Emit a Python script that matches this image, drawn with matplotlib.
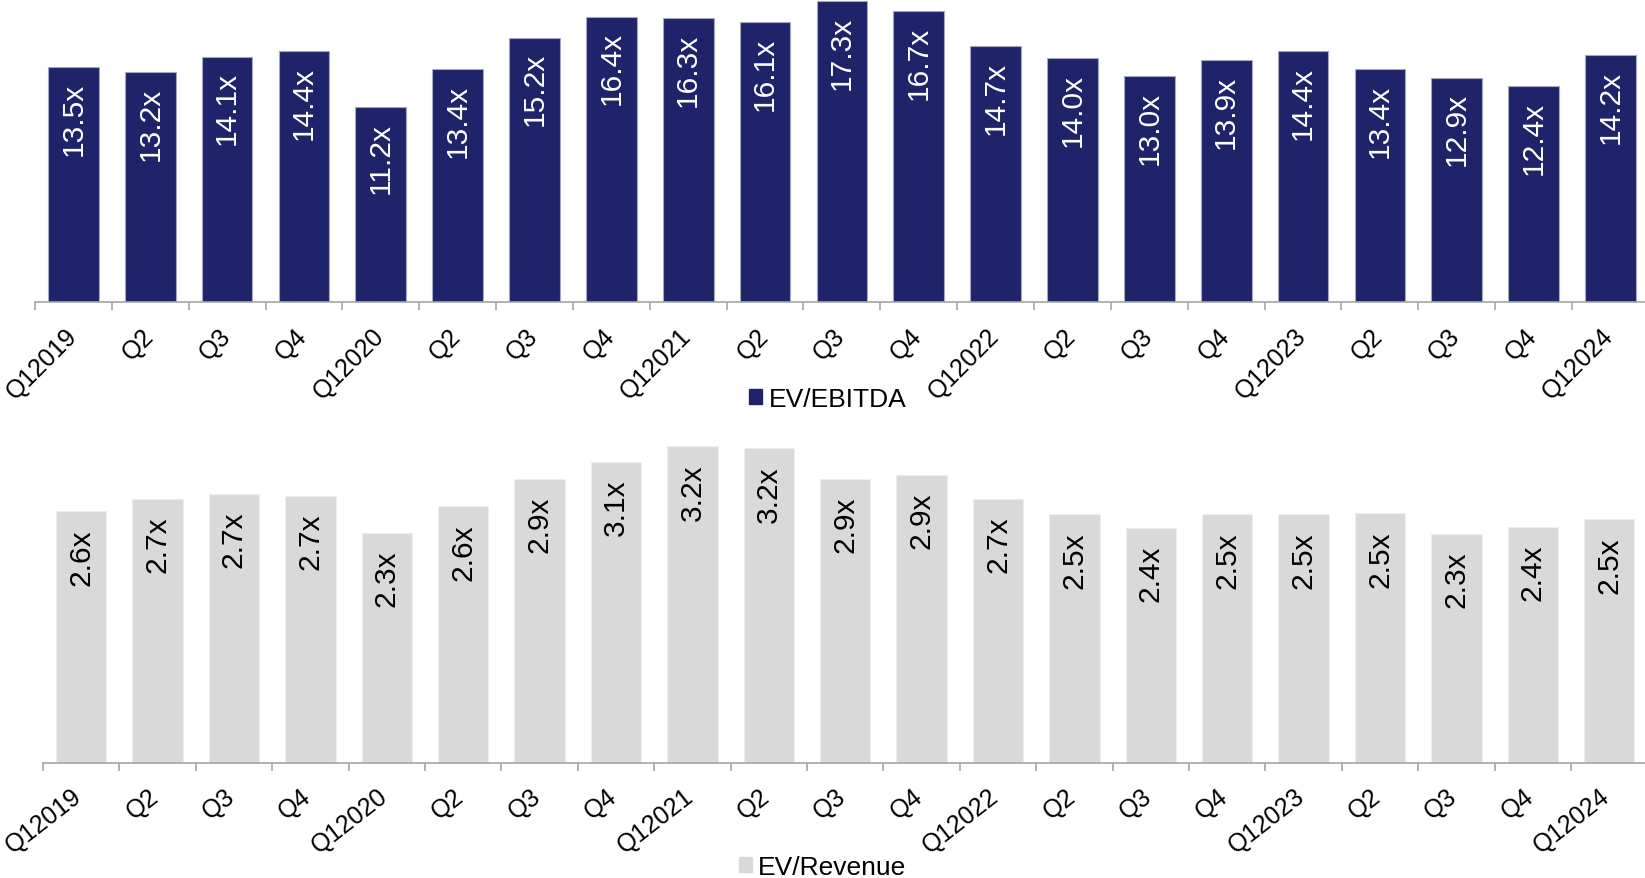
import matplotlib
matplotlib.use("Agg")
import matplotlib.pyplot as plt
import matplotlib.transforms as mtrans
from matplotlib.patches import Patch
import numpy as np

plt.rcParams['font.family'] = ['Liberation Sans', 'DejaVu Sans']

quarters = ["Q12019", "Q2", "Q3", "Q4", "Q12020", "Q2", "Q3", "Q4",
            "Q12021", "Q2", "Q3", "Q4", "Q12022", "Q2", "Q3", "Q4",
            "Q12023", "Q2", "Q3", "Q4", "Q12024"]
ev_ebitda = [13.5, 13.2, 14.1, 14.4, 11.2, 13.4, 15.2, 16.4, 16.3, 16.1, 17.3,
             16.7, 14.7, 14.0, 13.0, 13.9, 14.4, 13.4, 12.9, 12.4, 14.2]
ev_revenue = [2.56, 2.69, 2.74, 2.72, 2.34, 2.61, 2.89, 3.06, 3.22, 3.20, 2.89,
              2.93, 2.69, 2.53, 2.39, 2.53, 2.53, 2.54, 2.33, 2.40, 2.48]

NAVY = "#1F246A"
GREY = "#D9D9D9"
AXIS = "#A6A6A6"

W, H = 1645, 879
fig = plt.figure(figsize=(W / 100, H / 100), dpi=100)


def px_axes(left, bottom_y, width, height):
    # box given in image pixels (y measured from the top)
    return fig.add_axes([left / W, 1 - bottom_y / H, width / W, height / H])


def draw_panel(ax, values, color, edge, txtcolor, ymax, offset, rot, dx, dy):
    x = np.arange(len(values))
    ax.bar(x, values, width=0.66, color=color, edgecolor=edge, linewidth=0.8, zorder=2)
    for xi, v in zip(x, values):
        ax.annotate("%.1fx" % v, (xi, v), xytext=(0, -offset), textcoords="offset points",
                    rotation=90, ha="center", va="top", fontsize=21.5, color=txtcolor)
    ax.set_xlim(-0.5, len(values) - 0.5)
    ax.set_ylim(0, ymax)
    for s in ["top", "right", "left"]:
        ax.spines[s].set_visible(False)
    ax.spines["bottom"].set_color(AXIS)
    ax.spines["bottom"].set_linewidth(1.2)
    ax.set_yticks([])
    ax.set_xticks(x)
    ax.set_xticklabels(quarters, rotation=rot, ha="right", rotation_mode="anchor", fontsize=18)
    ax.tick_params(axis="x", which="major", length=0, pad=14)
    shift = mtrans.ScaledTranslation(dx / 100, dy / 100, fig.dpi_scale_trans)
    for lab in ax.get_xticklabels():
        lab.set_transform(lab.get_transform() + shift)
    # tick marks sit between the categories
    ax.set_xticks(np.arange(len(values) + 1) - 0.5, minor=True)
    ax.tick_params(axis="x", which="minor", length=5.5, width=1.2, color=AXIS)


ax1 = px_axes(35, 303, 21 * 76.85, 303)
draw_panel(ax1, ev_ebitda, NAVY, "#A4A8C4", "white", 303 / 17.4, 10.5, 45, -9, -2)

ax2 = px_axes(43, 764, 21 * 76.4, 98.3 * 3.6)
draw_panel(ax2, ev_revenue, GREY, "#EEEEEE", "black", 3.6, 12, 38, -9.5, -1)

legend_kw = dict(loc="center", frameon=False, fontsize=19, handlelength=0.51,
                 handleheight=0.51, handletextpad=0.23, borderpad=0, borderaxespad=0)
fig.legend(handles=[Patch(facecolor=NAVY, edgecolor=NAVY, label="EV/EBITDA")],
           bbox_to_anchor=(827.5 / W, 1 - 400 / H), **legend_kw)
fig.legend(handles=[Patch(facecolor=GREY, edgecolor=GREY, label="EV/Revenue")],
           bbox_to_anchor=(822.5 / W, 1 - 868 / H), **legend_kw)

fig.savefig("out.png", dpi=100)
